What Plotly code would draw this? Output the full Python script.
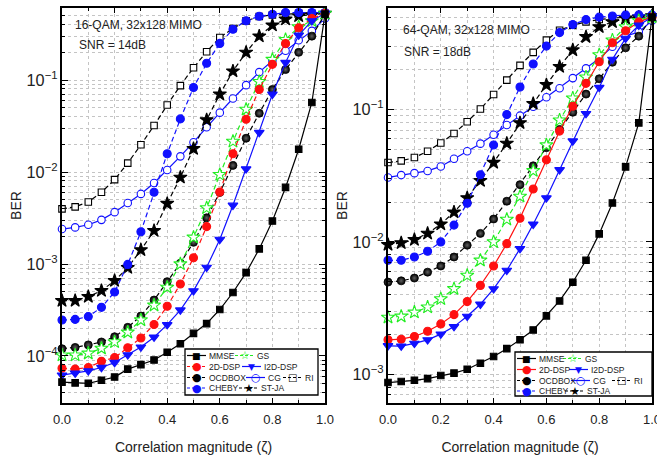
import plotly.graph_objects as go

# ---------------- data ----------------
ZETA = [0.0, 0.05, 0.1, 0.15, 0.2, 0.25, 0.3, 0.35, 0.4, 0.45, 0.5,
        0.55, 0.6, 0.65, 0.7, 0.75, 0.8, 0.85, 0.9, 0.95, 1.0]

# Left panel: 16-QAM, 32x128 MIMO, SNR = 14dB
MMSE_L = [5.2e-5, 5.1e-5, 5.05e-5, 5.45e-5, 5.9e-5, 7.2e-5, 8.05e-5, 9.05e-5, 1.1e-4, 1.36e-4, 1.76e-4,
          2.25e-4, 3.2e-4, 4.9e-4, 8.05e-4, 1.46e-3, 2.93e-3, 6.8e-3, 1.77e-2, 5.7e-2, 0.52]
DSP2D_L = [7.35e-5, 7.2e-5, 7.5e-5, 8.75e-5, 9.6e-5, 1.23e-4, 1.57e-4, 2.2e-4, 3.47e-4, 6.07e-4, 1.17e-3,
           2.55e-3, 6.07e-3, 1.58e-2, 3.75e-2, 7.9e-2, 0.148, 0.249, 0.369, 0.466, 0.53]
I2DDSP_L = [6.2e-5, 6.5e-5, 6.9e-5, 7.5e-5, 8.5e-5, 1.03e-4, 1.25e-4, 1.6e-4, 2.19e-4, 3.16e-4, 5.1e-4,
            9.2e-4, 1.85e-3, 4.35e-3, 1.08e-2, 2.69e-2, 7.0e-2, 0.155, 0.307, 0.44, 0.53]
OCDBOX_L = [1.2e-4, 1.24e-4, 1.32e-4, 1.42e-4, 1.62e-4, 2.05e-4, 2.72e-4, 4.06e-4, 6.43e-4, 1.02e-3, 1.72e-3,
            3.18e-3, 6.0e-3, 1.18e-2, 2.33e-2, 4.35e-2, 7.9e-2, 0.13, 0.2, 0.3, 0.52]
GS_L = [1.02e-4, 1.02e-4, 1.07e-4, 1.21e-4, 1.42e-4, 1.81e-4, 2.46e-4, 3.56e-4, 5.57e-4, 1.0e-3, 1.95e-3,
        4.07e-3, 9.35e-3, 2.15e-2, 4.8e-2, 9.6e-2, 0.167, 0.275, 0.378, 0.44, 0.53]
CG_L = [2.4e-3, 2.5e-3, 2.67e-3, 3.02e-3, 3.66e-3, 4.61e-3, 5.78e-3, 7.6e-3, 1.05e-2, 1.48e-2, 2.11e-2,
        3.07e-2, 4.42e-2, 6.3e-2, 8.8e-2, 0.122, 0.162, 0.208, 0.271, 0.342, 0.466]
RI_L = [3.97e-3, 4.18e-3, 4.73e-3, 6.02e-3, 8.26e-3, 1.25e-2, 1.98e-2, 3.2e-2, 5.35e-2, 8.7e-2, 0.136,
        0.203, 0.29, 0.363, 0.44, 0.49, 0.51, 0.52, 0.53, 0.53, 0.53]
CHEBY_L = [2.46e-4, 2.5e-4, 2.68e-4, 3.38e-4, 4.96e-4, 9.9e-4, 2.24e-3, 6.03e-3, 1.58e-2, 3.78e-2, 8.3e-2,
           0.152, 0.25, 0.356, 0.44, 0.493, 0.519, 0.541, 0.541, 0.541, 0.541]
STJA_L = [3.99e-4, 4.0e-4, 4.42e-4, 5.13e-4, 6.59e-4, 9.12e-4, 1.42e-3, 2.3e-3, 4.54e-3, 8.75e-3, 1.79e-2,
          3.69e-2, 7.0e-2, 0.125, 0.2, 0.3, 0.394, 0.458, 0.497, 0.51, 0.53]

# Right panel: 64-QAM, 32x128 MIMO, SNR = 18dB
MMSE_R = [8.65e-4, 8.8e-4, 9.0e-4, 9.27e-4, 9.77e-4, 1.02e-3, 1.09e-3, 1.21e-3, 1.36e-3, 1.56e-3, 1.82e-3,
          2.16e-3, 2.76e-3, 3.58e-3, 4.96e-3, 7.26e-3, 1.15e-2, 1.97e-2, 3.69e-2, 7.94e-2, 0.5]
DSP2D_R = [1.82e-3, 1.84e-3, 1.93e-3, 2.11e-3, 2.4e-3, 2.82e-3, 3.54e-3, 4.69e-3, 6.57e-3, 9.7e-3, 1.51e-2,
           2.51e-2, 4.17e-2, 6.88e-2, 0.106, 0.158, 0.23, 0.32, 0.394, 0.46, 0.5]
I2DDSP_R = [1.64e-3, 1.63e-3, 1.71e-3, 1.82e-3, 2.01e-3, 2.29e-3, 2.74e-3, 3.38e-3, 4.42e-3, 6.1e-3, 8.9e-3,
            1.36e-2, 2.15e-2, 3.51e-2, 5.79e-2, 9.33e-2, 0.147, 0.24, 0.345, 0.434, 0.5]
OCDBOX_R = [4.97e-3, 5.08e-3, 5.33e-3, 5.91e-3, 6.58e-3, 7.69e-3, 9.44e-3, 1.16e-2, 1.49e-2, 2.03e-2, 2.71e-2,
            3.76e-2, 5.16e-2, 7.08e-2, 9.55e-2, 0.131, 0.171, 0.228, 0.293, 0.359, 0.5]
GS_R = [2.69e-3, 2.74e-3, 2.94e-3, 3.21e-3, 3.71e-3, 4.42e-3, 5.58e-3, 7.26e-3, 1.0e-2, 1.48e-2, 2.21e-2,
        3.45e-2, 5.4e-2, 8.32e-2, 0.122, 0.176, 0.259, 0.335, 0.422, 0.47, 0.5]
CG_R = [3.07e-2, 3.2e-2, 3.31e-2, 3.44e-2, 3.72e-2, 4.25e-2, 4.84e-2, 5.53e-2, 6.45e-2, 7.65e-2, 9.0e-2,
        0.105, 0.124, 0.145, 0.173, 0.205, 0.244, 0.299, 0.359, 0.387, 0.47]
RI_R = [3.98e-2, 4.1e-2, 4.34e-2, 4.85e-2, 5.6e-2, 6.6e-2, 8.1e-2, 0.101, 0.13, 0.167, 0.216,
        0.271, 0.335, 0.398, 0.434, 0.46, 0.48, 0.49, 0.5, 0.5, 0.5]
CHEBY_R = [7.26e-3, 7.26e-3, 7.69e-3, 8.49e-3, 1.0e-2, 1.34e-2, 1.96e-2, 3.22e-2, 5.4e-2, 9.17e-2, 0.148,
           0.221, 0.302, 0.382, 0.439, 0.479, 0.5, 0.51, 0.52, 0.52, 0.52]
STJA_R = [9.54e-3, 9.82e-3, 1.04e-2, 1.16e-2, 1.36e-2, 1.68e-2, 2.15e-2, 2.9e-2, 3.98e-2, 5.56e-2, 7.94e-2,
          0.111, 0.154, 0.211, 0.282, 0.355, 0.422, 0.46, 0.49, 0.5, 0.51]

NAMES = ["MMSE", "2D-DSP", "I2D-DSP", "OCDBOX", "GS", "CG", "RI", "CHEBY", "ST-JA"]
LEFT = [MMSE_L, DSP2D_L, I2DDSP_L, OCDBOX_L, GS_L, CG_L, RI_L, CHEBY_L, STJA_L]
RIGHT = [MMSE_R, DSP2D_R, I2DDSP_R, OCDBOX_R, GS_R, CG_R, RI_R, CHEBY_R, STJA_R]
PANEL_TEXT = [("16-QAM, 32x128 MIMO", "SNR = 14dB"), ("64-QAM, 32x128 MIMO", "SNR = 18dB")]
X_TICKS = [0.0, 0.2, 0.4, 0.6, 0.8, 1.0]

# ---------------- styles ----------------
BLUE, RED, GREEN, BLACK = "#1010ff", "#ff1010", "#22ee22", "#000000"
DASH = "5px,3px"
STYLE = {
    "MMSE":    dict(color=BLACK, symbol="square", fill=BLACK, size=6.5, glyph="\u25A0", gsize=9),
    "2D-DSP":  dict(color=RED, symbol="circle", fill=RED, size=8, glyph="\u25CF", gsize=11),
    "I2D-DSP": dict(color=BLUE, symbol="triangle-down", fill=BLUE, size=8.5, glyph="\u25BC", gsize=9),
    "OCDBOX":  dict(color=BLACK, symbol="circle", fill=BLACK, size=8, glyph="\u25CF", gsize=11, sphere=True),
    "GS":      dict(color=GREEN, symbol="star", fill="white", size=10, glyph="\u2606", gsize=11),
    "CG":      dict(color=BLUE, symbol="circle", fill="white", size=7.5, glyph="\u25CB", gsize=11),
    "RI":      dict(color=BLACK, symbol="square", fill="white", size=6.5, glyph="\u25A1", gsize=10),
    "CHEBY":   dict(color=BLUE, symbol="circle", fill=BLUE, size=8, glyph="\u25CF", gsize=11),
    "ST-JA":   dict(color=BLACK, symbol="star", fill=BLACK, size=10, glyph="\u2605", gsize=11),
}
DASH_L = {"MMSE": "solid", "2D-DSP": DASH, "I2D-DSP": "solid", "OCDBOX": DASH, "GS": DASH,
          "CG": "solid", "RI": DASH, "CHEBY": DASH, "ST-JA": DASH}
DASH_R = {"MMSE": "solid", "2D-DSP": "solid", "I2D-DSP": "solid", "OCDBOX": DASH, "GS": DASH,
          "CG": "solid", "RI": DASH, "CHEBY": DASH, "ST-JA": DASH}

# ---------------- layout geometry (window pixels) ----------------
W, H = 657, 462
PLOT_L, PLOT_R, PLOT_T, PLOT_B = 62, 652, 8, 403
ML, MR, MT, MB = PLOT_L, W - PLOT_R, PLOT_T, H - PLOT_B
PW, PH = W - ML - MR, H - MT - MB


def pxx(x):
    return (x - ML) / PW


def pxy(y):
    return (H - MB - y) / PH


FONT = "Liberation Sans, Arial, sans-serif"
GRID = "#c4c4c4"

fig = go.Figure()

DRAW_ORDER = ["RI", "CG", "ST-JA", "CHEBY", "OCDBOX", "GS", "2D-DSP", "I2D-DSP", "MMSE"]

for p, (data, dashes) in enumerate([(LEFT, DASH_L), (RIGHT, DASH_R)]):
    xa = "x" if p == 0 else "x2"
    ya = "y" if p == 0 else "y2"
    for name in DRAW_ORDER:
        st = STYLE[name]
        y = data[NAMES.index(name)]
        marker = dict(symbol=st["symbol"], size=st["size"], color=st["fill"],
                      line=dict(color=st["color"], width=1.1))
        if st.get("sphere"):
            marker["gradient"] = dict(type="radial", color="#606060")
            marker["line"] = dict(color=BLACK, width=0.8)
        fig.add_trace(go.Scatter(
            x=ZETA, y=y, mode="lines+markers", name=name, showlegend=False,
            line=dict(color=st["color"], width=1.2, dash=dashes[name]),
            marker=marker, cliponaxis=False, xaxis=xa, yaxis=ya))

axis_common = dict(
    showline=True, linecolor="black", linewidth=1.6, mirror="allticks",
    ticks="inside", tickwidth=1, tickcolor="black",
    showgrid=True, gridcolor=GRID, griddash="dot", gridwidth=1,
    zeroline=False, tickfont=dict(family=FONT, size=13, color="#222"),
    ticklabeloverflow="allow",
)

xcommon = dict(axis_common, range=[0, 1], tickvals=X_TICKS, tickformat=".1f", ticklen=5,
               ticklabelstandoff=4,
               minor=dict(dtick=0.1, ticks="inside", ticklen=3, tickcolor="black",
                          showgrid=True, gridcolor=GRID, griddash="dot"),
               title=dict(text="Correlation magnitude (\u03B6)", font=dict(family=FONT, size=14, color="#222"),
                          standoff=16))
ycommon = dict(axis_common, type="log", dtick=1, exponentformat="power", ticklen=6,
               minor=dict(dtick="D1", ticks="inside", ticklen=3, tickcolor="black",
                          showgrid=True, gridcolor=GRID, griddash="dot"),
               title=dict(text="BER", font=dict(family=FONT, size=14, color="#222"), standoff=2))

fig.update_layout(
    width=W, height=H, margin=dict(l=ML, r=MR, t=MT, b=MB, autoexpand=False),
    paper_bgcolor="white", plot_bgcolor="white", showlegend=False,
    font=dict(family=FONT, size=12, color="#222"),
    xaxis=dict(xcommon, domain=[0, pxx(325)], anchor="y"),
    yaxis=dict(ycommon, range=[-4.511, -0.217], anchor="x"),
    xaxis2=dict(xcommon, domain=[pxx(388), 1], anchor="y2"),
    yaxis2=dict(ycommon, range=[-3.2175, -0.232], anchor="x2"),
)

# ---------------- panel text ----------------
annotations = []
shapes = []
for (t1, t2), (x1, y1, x2, y2) in zip(PANEL_TEXT, [(73, 25, 77, 45), (401, 30, 402, 52)]):
    annotations.append(dict(x=pxx(x1), y=pxy(y1), xref="paper", yref="paper", text=t1, showarrow=False,
                            xanchor="left", yanchor="middle", font=dict(family=FONT, size=12, color="#222")))
    annotations.append(dict(x=pxx(x2), y=pxy(y2), xref="paper", yref="paper", text=t2, showarrow=False,
                            xanchor="left", yanchor="middle", font=dict(family=FONT, size=12, color="#222")))

# ---------------- legend (drawn as shapes + text) ----------------
LEG_ROWS = [["MMSE", "GS"], ["2D-DSP", "I2D-DSP"], ["OCDBOX", "CG", "RI"], ["CHEBY", "ST-JA"]]
LEG_BOXES = [(185, 349, 318, 395), (515, 352, 652, 396)]
LEG_COLS = [[[2, 50], [2, 57], [2, 61, 98], [2, 54]],
            [[2, 48], [2, 54], [2, 56, 97], [2, 50]]]
ROW_DY = [6.5, 17.5, 28.5, 39]
for p, (bx0, by0, bx1, by1) in enumerate(LEG_BOXES):
    dashes = DASH_L if p == 0 else DASH_R
    shapes.append(dict(type="rect", xref="paper", yref="paper", x0=pxx(bx0), x1=pxx(bx1),
                       y0=pxy(by0), y1=pxy(by1), line=dict(color="black", width=1.3),
                       fillcolor="white", layer="above"))
    for r, row in enumerate(LEG_ROWS):
        yy = by0 + ROW_DY[r]
        for c, name in enumerate(row):
            st = STYLE[name]
            x0 = bx0 + LEG_COLS[p][r][c]
            shapes.append(dict(type="line", xref="paper", yref="paper", x0=pxx(x0), x1=pxx(x0 + 19),
                               y0=pxy(yy), y1=pxy(yy), layer="above",
                               line=dict(color=st["color"], width=1.2,
                                         dash="solid" if dashes[name] == "solid" else "3px,2px")))
            annotations.append(dict(x=pxx(x0 + 9.5), y=pxy(yy), xref="paper", yref="paper",
                                    text=st["glyph"], showarrow=False, xanchor="center", yanchor="middle",
                                    borderpad=0,
                                    font=dict(family="DejaVu Sans", size=st["gsize"], color=st["color"])))
            annotations.append(dict(x=pxx(x0 + 21), y=pxy(yy), xref="paper", yref="paper", text=name,
                                    showarrow=False, xanchor="left", yanchor="middle", borderpad=0,
                                    font=dict(family=FONT, size=8.5, color="#222")))

fig.update_layout(annotations=annotations, shapes=shapes)

# The page's default 8px body margin would shift the fixed-size figure; remove it.
fig.write_html("out.html", config={"displayModeBar": False},
               post_script="document.body.style.margin='0';document.body.style.overflow='hidden';")
